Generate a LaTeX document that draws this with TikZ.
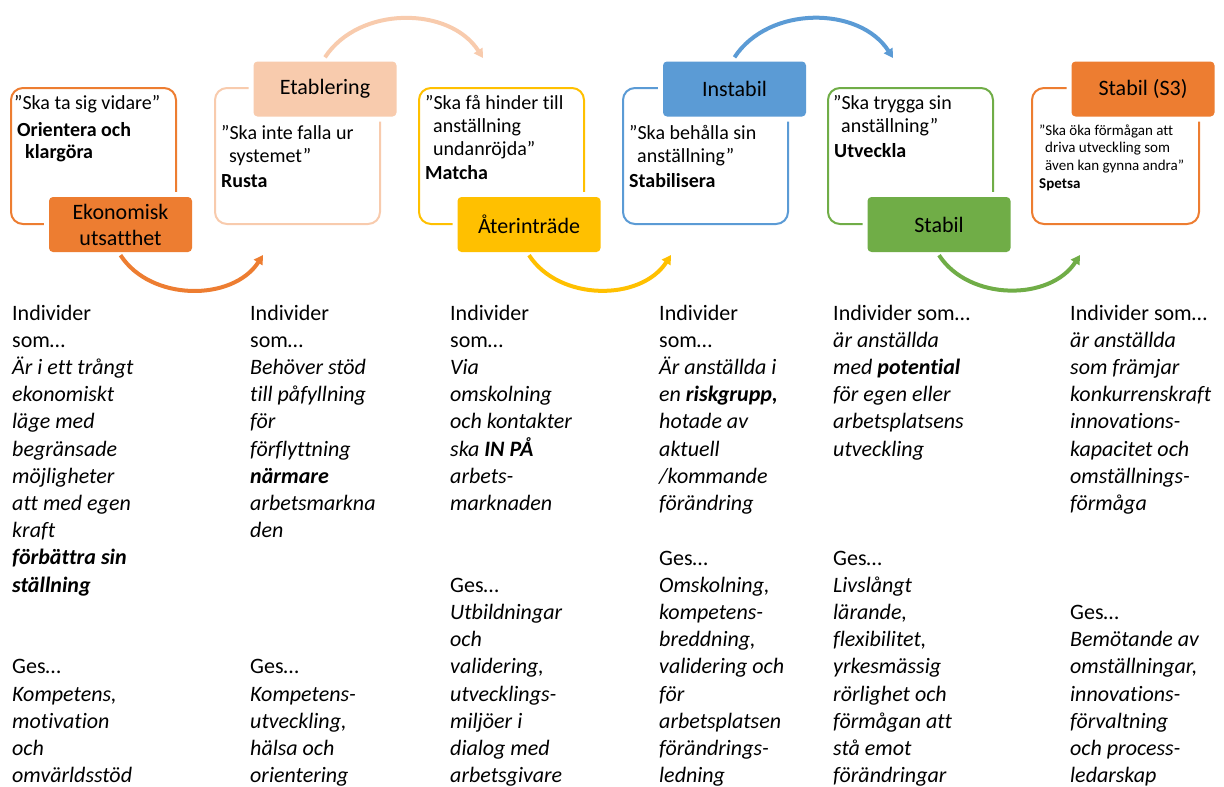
\documentclass[tikz,border=0pt]{standalone}
\usepackage{fontspec}
\setmainfont{Carlito}[Ligatures={TeX,NoCommon}]
\usetikzlibrary{arrows.meta}
\definecolor{accorange}{HTML}{ED7D31}
\definecolor{accpeach}{HTML}{F8CBAD}
\definecolor{accyellow}{HTML}{FFC000}
\definecolor{accblue}{HTML}{5B9BD5}
\definecolor{accgreen}{HTML}{70AD47}
\newcommand{\ind}{\hspace*{8pt}}

\begin{document}
\begin{tikzpicture}[x=1pt,y=-1pt,>={Triangle[length=9pt,width=10pt]}]
      \tikzstyle{frame}=[draw,line width=2pt,rounded corners=12pt,minimum width=165pt,minimum height=136pt,inner sep=0pt];
      \tikzstyle{stage}=[rounded corners=4pt,minimum width=143pt,minimum height=55pt,inner sep=0pt,align=center,font=\fontsize{22}{26}\selectfont,preaction={draw=white,line width=10pt}];
      \tikzstyle{bow}=[->,line width=4pt];
      % base anchor = baseline of the last line
      \tikzstyle{quote}=[anchor=base west,align=left,inner sep=0pt,font=\fontsize{20}{23}\selectfont];
      \tikzstyle{goal}=[anchor=base west,align=left,inner sep=0pt,font=\fontsize{20}{22}\selectfont\bfseries];
      \tikzstyle{desc}=[anchor=base west,align=left,inner sep=0pt,font=\fontsize{22}{27.2}\selectfont];

      \useasboundingbox (0,0) rectangle (1224,787);

      % frames
      \node[frame,draw=accorange](F1) at (93.5,156) {};
      \node[frame,draw=accpeach](F2) at (297.5,156) {};
      \node[frame,draw=accyellow](F3) at (501.5,156) {};
      \node[frame,draw=accblue](F4) at (705.5,156) {};
      \node[frame,draw=accgreen](F5) at (910.5,156) {};
      \node[frame,draw=accorange,minimum width=167pt](F6) at (1115.5,156) {};

      % stages
      \node[stage,fill=accorange](S1) at (120.5,224.5) {Ekonomisk\\utsatthet};
      \node[stage,fill=accpeach](S2) at (325,89) {Etablering};
      \node[stage,fill=accyellow](S3) at (529,224.5) {Återinträde};
      \node[stage,fill=accblue](S4) at (734.5,89) {Instabil};
      \node[stage,fill=accgreen](S5) at (939,224.5) {Stabil};
      \node[stage,fill=accorange](S6) at (1143,89) {Stabil (S3)};

      % arrow ends
      \coordinate (E1) at (263,255);
      \coordinate (E2) at (483,58);
      \coordinate (E3) at (671,255);
      \coordinate (E4) at (893,58);
      \coordinate (E5) at (1080,255);

      \draw[bow,accorange] ([yshift=-3pt]S1.south) to[bend right=57] (E1);
      \draw[bow,accpeach] ([yshift=4pt]S2.north) to[bend left=57] (E2);
      \draw[bow,accyellow] ([yshift=-3pt]S3.south) to[bend right=57] (E3);
      \draw[bow,accblue] ([yshift=4pt]S4.north) to[bend left=57] (E4);
      \draw[bow,accgreen] ([yshift=-3pt]S5.south) to[bend right=57] (E5);

      % texts in the frames
      \node[quote](Q1) at (14,109.5) {”Ska ta sig vidare”};
      \node[goal](G1) at (17,158.5) {Orientera och\\\ind klargöra};
      \node[quote](Q2) at (221,162.5) {”Ska inte falla ur\\\ind systemet”};
      \node[goal](G2) at (221,187.5) {Rusta};
      \node[quote](Q3) at (425,155.5) {”Ska få hinder till\\\ind anställning\\\ind undanröjda”};
      \node[goal](G3) at (425,179.5) {Matcha};
      \node[quote](Q4) at (629,162.5) {”Ska behålla sin\\\ind anställning”};
      \node[goal](G4) at (629,187.5) {Stabilisera};
      \node[quote](Q5) at (833,132.5) {”Ska trygga sin\\\ind anställning”};
      \node[goal](G5) at (834,157.5) {Utveckla};
      \node[quote,font=\fontsize{15}{17.5}\selectfont](Q6) at (1039,170) {”Ska öka förmågan att\\\hspace*{6pt}driva utveckling som\\\hspace*{6pt}även kan gynna andra”};
      \node[goal,font=\fontsize{15}{17.5}\selectfont\bfseries](G6) at (1039,188) {Spetsa};

      % who
      \node[desc](W1) at (12,592) {Individer\\som…\\\textit{Är i ett trångt}\\\textit{ekonomiskt}\\\textit{läge med}\\\textit{begränsade}\\\textit{möjligheter}\\\textit{att med egen}\\\textit{kraft}\\\textbf{\textit{förbättra sin}}\\\textbf{\textit{ställning}}};
      \node[desc](W2) at (250,537.6) {Individer\\som…\\\textit{Behöver stöd}\\\textit{till påfyllning}\\\textit{för}\\\textit{förflyttning}\\\textbf{\textit{närmare}}\\\textit{arbetsmarkna}\\\textit{den}};
      \node[desc](W3) at (450,510.4) {Individer\\som…\\\textit{Via}\\\textit{omskolning}\\\textit{och kontakter}\\\textit{ska \textbf{IN PÅ}}\\\textit{arbets-}\\\textit{marknaden}};
      \node[desc](W4) at (659,510.4) {Individer\\som…\\\textit{Är anställda i}\\\textit{en \textbf{riskgrupp,}}\\\textit{hotade av}\\\textit{aktuell}\\\textit{/kommande}\\\textit{förändring}};
      \node[desc](W5) at (833,456) {Individer som…\\\textit{är anställda}\\\textit{med \textbf{potential}}\\\textit{för egen eller}\\\textit{arbetsplatsens}\\\textit{utveckling}};
      \node[desc](W6) at (1070,510.4) {Individer som…\\\textit{är anställda}\\\textit{som främjar}\\\textit{konkurrenskraft}\\\textit{innovations-}\\\textit{kapacitet och}\\\textit{omställnings-}\\\textit{förmåga}};

      % given
      \node[desc](R1) at (12,782.6) {Ges…\\\textit{Kompetens,}\\\textit{motivation}\\\textit{och}\\\textit{omvärldsstöd}};
      \node[desc](R2) at (250,782.6) {Ges…\\\textit{Kompetens-}\\\textit{utveckling,}\\\textit{hälsa och}\\\textit{orientering}};
      \node[desc](R3) at (450,782.6) {Ges…\\\textit{Utbildningar}\\\textit{och}\\\textit{validering,}\\\textit{utvecklings-}\\\textit{miljöer i}\\\textit{dialog med}\\\textit{arbetsgivare}};
      \node[desc](R4) at (659,782.6) {Ges…\\\textit{Omskolning,}\\\textit{kompetens-}\\\textit{breddning,}\\\textit{validering och}\\\textit{för}\\\textit{arbetsplatsen}\\\textit{förändrings-}\\\textit{ledning}};
      \node[desc](R5) at (833,782.6) {Ges…\\\textit{Livslångt}\\\textit{lärande,}\\\textit{flexibilitet,}\\\textit{yrkesmässig}\\\textit{rörlighet och}\\\textit{förmågan att}\\\textit{stå emot}\\\textit{förändringar}};
      \node[desc](R6) at (1070,782.6) {Ges…\\\textit{Bemötande av}\\\textit{omställningar,}\\\textit{innovations-}\\\textit{förvaltning}\\\textit{och process-}\\\textit{ledarskap}};

\end{tikzpicture}
\end{document}
